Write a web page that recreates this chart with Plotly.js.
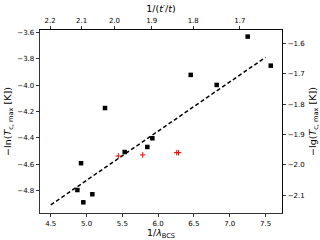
<!DOCTYPE html>
<html><head><meta charset="utf-8">
<script src="https://cdn.plot.ly/plotly-3.0.1.min.js"></script>
<style>html,body{margin:0;padding:0;background:#fff}#c{width:320px;height:240px}</style>
</head><body><div id="c"></div>
<script>
// black squares: 1/lambda_BCS vs -ln(Tc,max)
const sqX = [5.258, 7.251, 7.573, 6.455, 6.818, 4.923, 4.872, 4.955, 5.081, 5.533, 5.849, 5.919];
const sqY = [-4.174, -3.633, -3.853, -3.923, -3.999, -4.592, -4.795, -4.888, -4.827, -4.507, -4.469, -4.403];
// red plus markers
const rdX = [5.444, 5.785, 6.26, 6.285];
const rdY = [-4.537, -4.529, -4.512, -4.512];
// dashed fit line
const fitX = [4.5, 7.5];
const fitY = [-4.908, -3.79];
// top axis tick labels 1/(t'/t) and their positions on the bottom scale
const topTickText = ['2.2', '2.1', '2.0', '1.9', '1.8', '1.7'];
const topTickPos = [4.49, 4.93, 5.39, 5.91, 6.49, 7.14];

const LN10 = Math.log(10);
const xr = [4.35, 7.73];
const yr = [-4.969, -3.583];
const tickFont = {family: 'DejaVu Sans', size: 7, color: '#000'};
const titleFont = {family: 'DejaVu Sans', size: 9.5, color: '#000'};

const traces = [
  {x: fitX, y: fitY, mode: 'lines', line: {color: '#000', width: 1.5, dash: '4px,2.5px'}, hoverinfo: 'skip'},
  {x: sqX, y: sqY, mode: 'markers', marker: {symbol: 'square', size: 4.5, color: '#000'}},
  {x: rdX, y: rdY, mode: 'markers', marker: {symbol: 'cross-thin', size: 4, color: 'red', line: {color: 'red', width: 1}}},
  {x: [null], y: [null], xaxis: 'x2', yaxis: 'y2', mode: 'markers', showlegend: false}
];

const common = {ticks: 'outside', ticklen: 3.5, tickwidth: 0.8, tickcolor: '#000', showline: true, linecolor: '#000', linewidth: 0.8, showgrid: false, zeroline: false, tickfont: tickFont};

const layout = {
  width: 320, height: 240,
  margin: {l: 40, r: 38, t: 30, b: 27},
  paper_bgcolor: '#fff', plot_bgcolor: '#fff',
  showlegend: false,
  xaxis: Object.assign({}, common, {range: xr, tickvals: [4.5, 5.0, 5.5, 6.0, 6.5, 7.0, 7.5], ticktext: ['4.5','5.0','5.5','6.0','6.5','7.0','7.5'], mirror: true,
    title: {text: '1/<i>λ</i><sub>BCS</sub>', font: titleFont, standoff: 2}}),
  xaxis2: Object.assign({}, common, {range: xr, overlaying: 'x', side: 'top', tickvals: topTickPos, ticktext: topTickText,
    title: {text: '1/(<i>t′</i>/<i>t</i>)', font: titleFont, standoff: 2}}),
  yaxis: Object.assign({}, common, {range: yr, tickvals: [-4.8, -4.6, -4.4, -4.2, -4.0, -3.8, -3.6], ticktext: ['−4.8','−4.6','−4.4','−4.2','−4.0','−3.8','−3.6'], mirror: true,
    title: {text: '−ln(<i>T</i><sub>c, max</sub> [K])', font: titleFont, standoff: 3}}),
  yaxis2: Object.assign({}, common, {range: [yr[0] / LN10, yr[1] / LN10], overlaying: 'y', side: 'right', tickvals: [-2.1, -2.0, -1.9, -1.8, -1.7, -1.6], ticktext: ['−2.1','−2.0','−1.9','−1.8','−1.7','−1.6'],
    title: {text: '−lg(<i>T</i><sub>c, max</sub> [K])', font: titleFont, standoff: 9}})
};
Plotly.newPlot('c', traces, layout, {staticPlot: true, displayModeBar: false});
</script></body></html>
